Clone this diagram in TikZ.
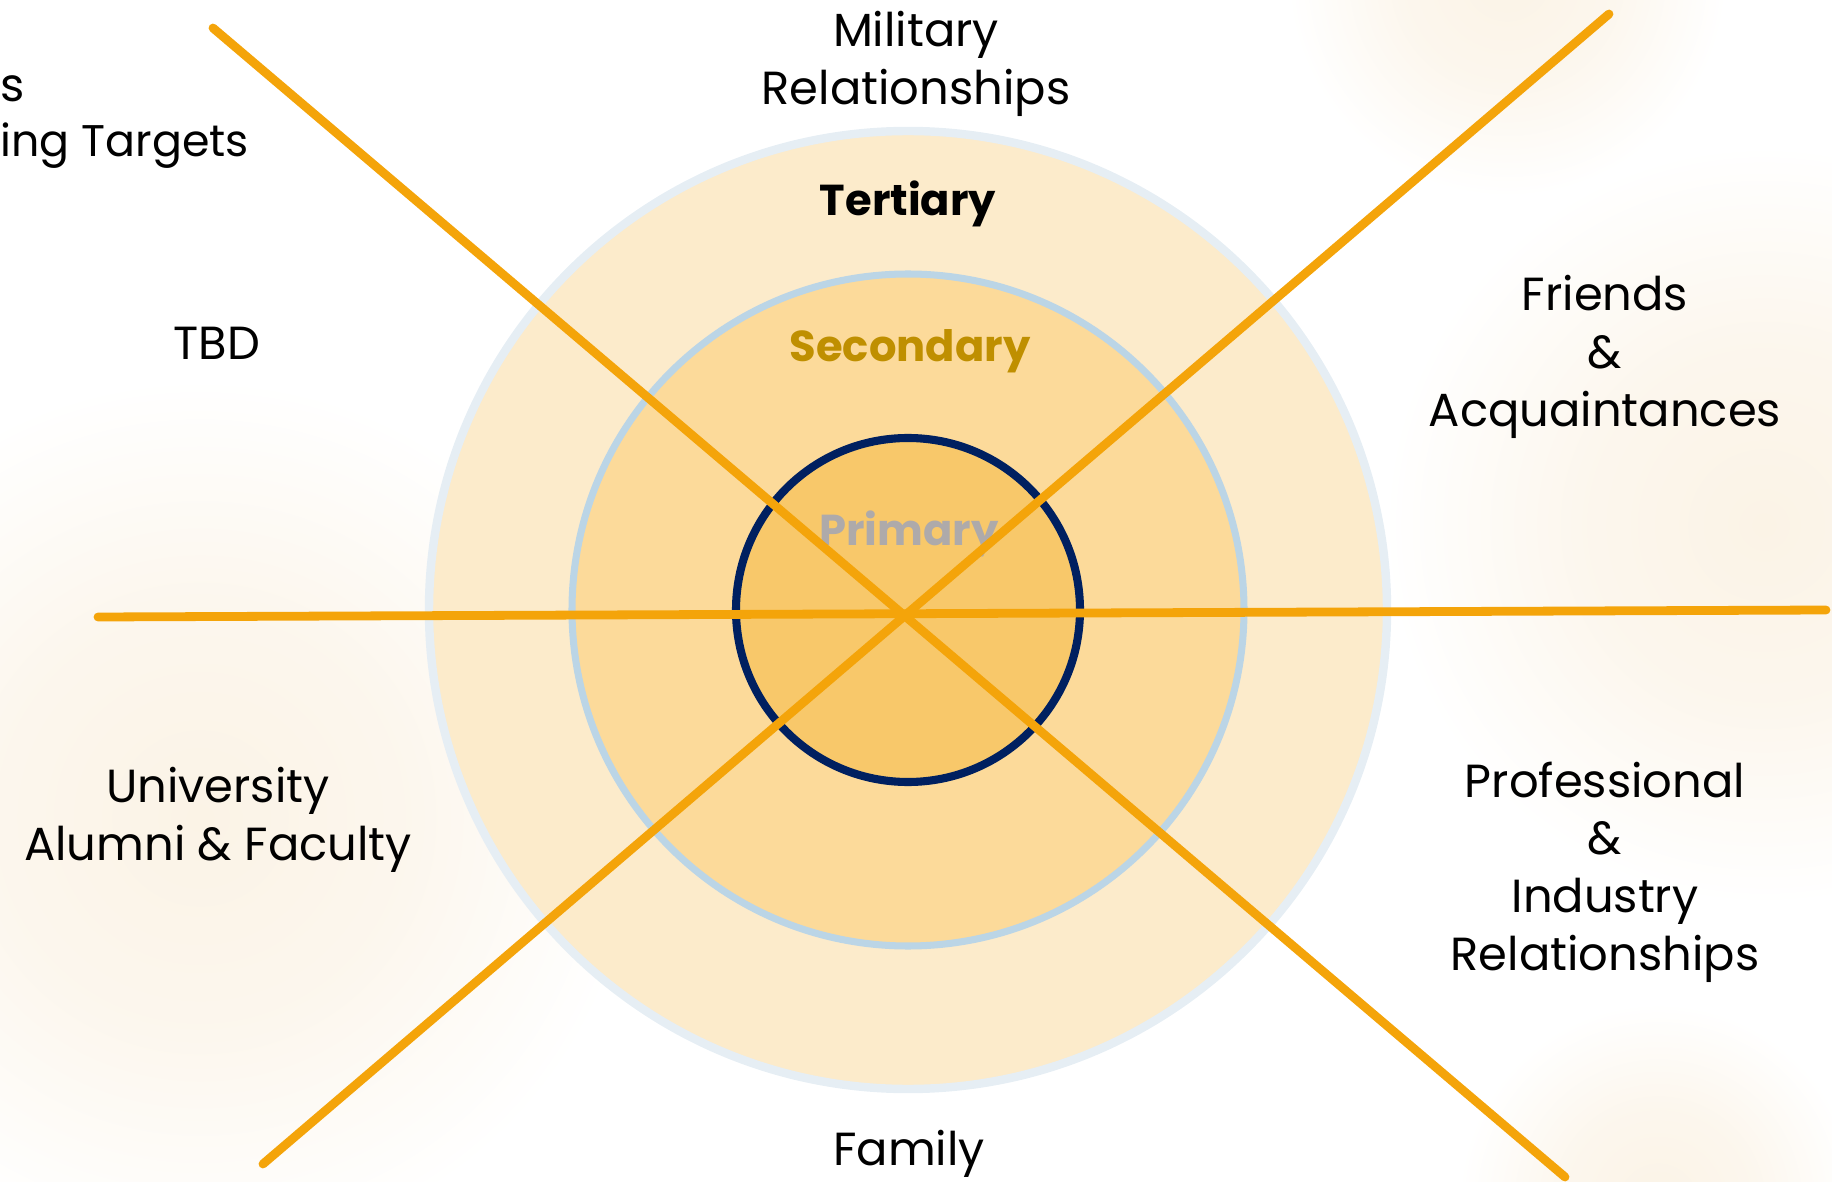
\documentclass[tikz,border=0pt]{standalone}
\usepackage{fontspec}
\setmainfont{Poppins}
\usetikzlibrary{positioning}
\definecolor{spokeorange}{HTML}{F4A40A}
\definecolor{ringthree}{HTML}{FCEBCB}
\definecolor{ringtwo}{HTML}{FCDA9A}
\definecolor{ringone}{HTML}{F8C86A}
\definecolor{rimpale}{HTML}{E6EEF4}
\definecolor{rimblue}{HTML}{BBD5E6}
\definecolor{coreNavy}{HTML}{002060}
\definecolor{secgold}{HTML}{BF8F00}
\definecolor{prigray}{HTML}{AEAAAA}
\definecolor{glowcol}{HTML}{FBF3E6}
\pgfdeclareradialshading{glow}{\pgfpoint{0bp}{0bp}}{color(0bp)=(glowcol); color(12bp)=(glowcol!70!white); color(25bp)=(white); color(50bp)=(white)}
\tikzset{
  spoke/.style={draw=spokeorange, line width=2.5pt, line cap=round},
  sector/.style={font=\fontsize{13.2}{16.4}\selectfont, align=center, inner sep=0pt},
  tier/.style={font=\fontsize{12.3}{16}\selectfont\bfseries, inner sep=0pt, anchor=base}
}
\begin{document}
\begin{tikzpicture}[x=0.01cm, y=-0.01cm]
  \clip (0,0) rectangle (1832,1182);
  \useasboundingbox (0,0) rectangle (1832,1182);
  % faint background glows
  \shade[shading=glow] (200,818) circle (440);
  \shade[shading=glow] (1764,525) circle (380);
  \shade[shading=glow] (1507,-23) circle (220);
  \shade[shading=glow] (1658,1203) circle (200);
  % rings
  \coordinate (hub) at (908,610);
  \filldraw[fill=ringthree, draw=rimpale, line width=2.4pt] (hub) circle (479);
  \filldraw[fill=ringtwo, draw=rimblue, line width=2pt] (hub) circle (336);
  \filldraw[fill=ringone, draw=coreNavy, line width=2.3pt] (hub) circle (172);
  \node[tier] (ter) at (908,216) {Tertiary};
  \node[tier, text=secgold] (sec) at (910,362) {Secondary};
  \node[tier, text=prigray] (pri) at (909,546) {Primary};
  % spokes
  \coordinate (nw) at (213,28);
  \coordinate (se) at (1565,1177);
  \coordinate (sw) at (263,1164);
  \coordinate (ne) at (1609,14);
  \coordinate (w) at (98,617);
  \coordinate (e) at (1826,610);
  \draw[spoke] (nw) -- (se);
  \draw[spoke] (sw) -- (ne);
  \draw[spoke] (w) -- (e);
  % sector labels
  \node[sector] (mil) at (916,64) {Military\\Relationships};
  \node[sector, anchor=base west] (tgta) at (0,102) {s};
  \node[sector, anchor=base west, font=\fontsize{12.6}{16}\selectfont] (tgtb) at (0,157) {ing Targets};
  \node[sector, anchor=base] (tbd) at (217,360) {TBD};
  \node[sector] (uni) at (218,820) {University\\Alumni \& Faculty};
  \node[sector] (fri) at (1605,357) {Friends\\\&\\Acquaintances};
  \node[sector] (pro) at (1605,872) {Professional\\\&\\Industry\\Relationships};
  \node[sector, anchor=base] (fam) at (909,1165) {Family};
\end{tikzpicture}
\end{document}
